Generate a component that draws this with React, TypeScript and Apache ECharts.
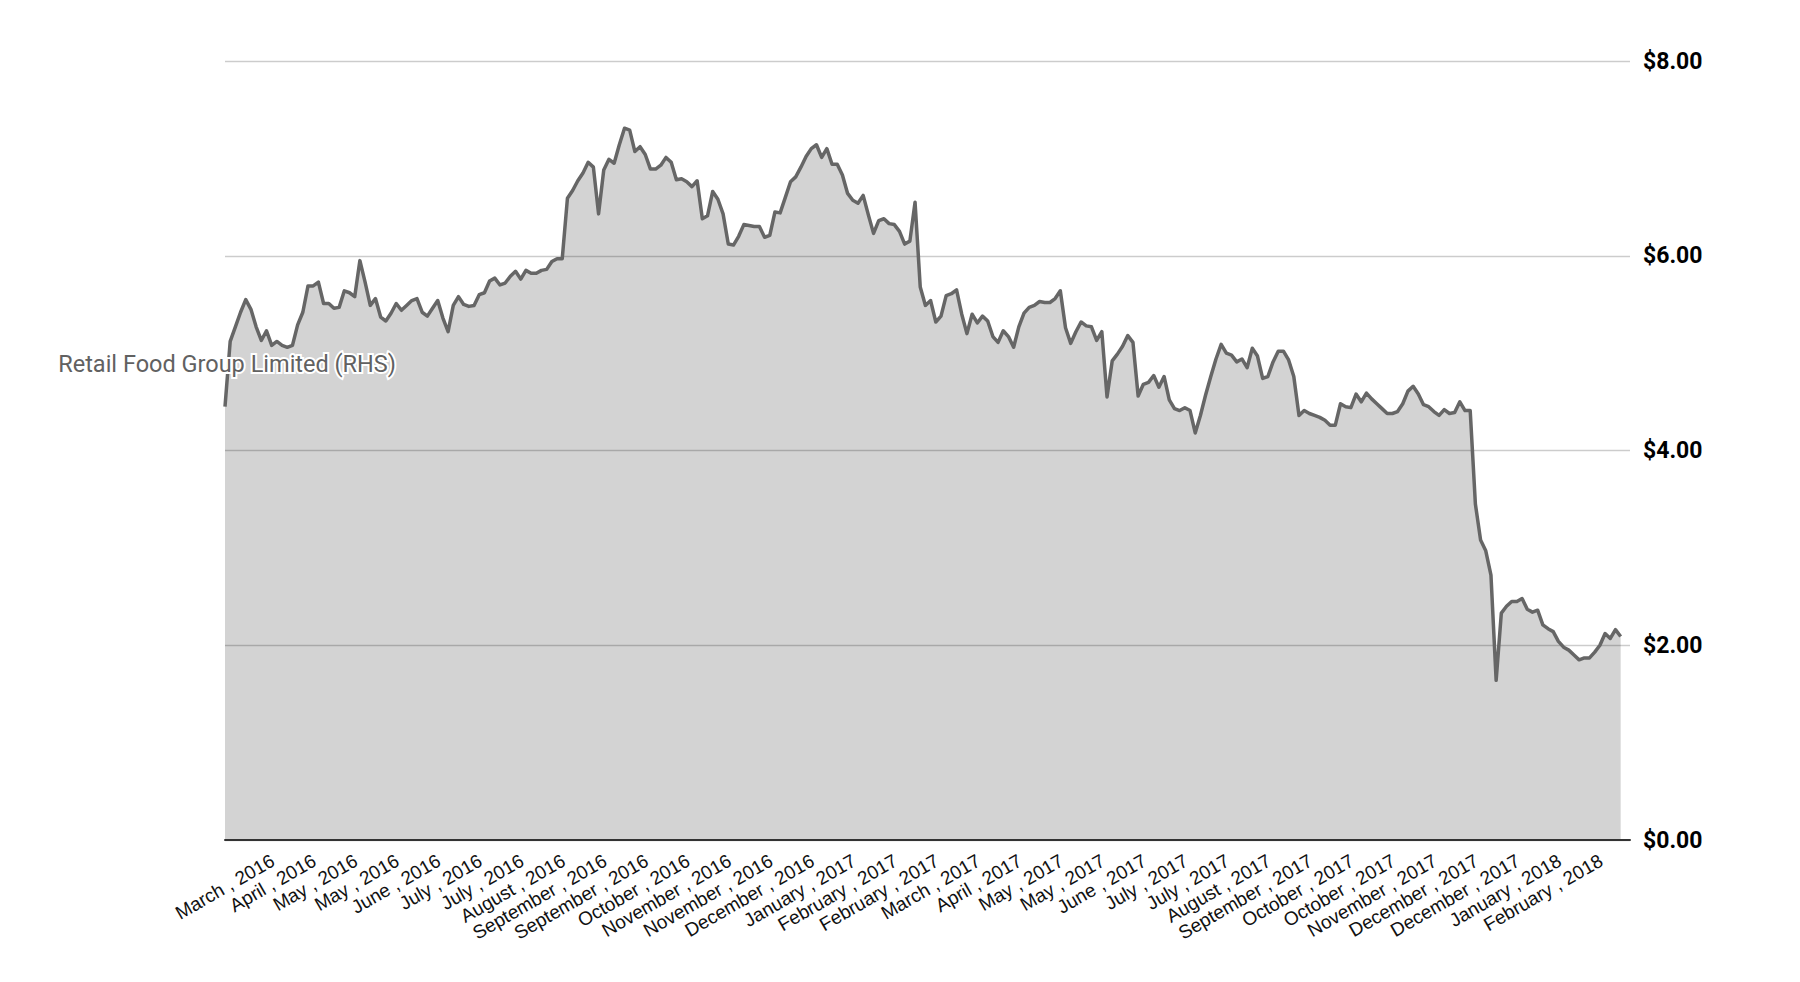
import React, { useEffect, useRef } from "react";
import * as echarts from "echarts";

// Share price (A$), evenly spaced samples from early March 2016 to late February 2018
const prices: number[] = [
  4.45, 5.12, 5.27, 5.42, 5.55, 5.45, 5.27, 5.13, 5.23, 5.08,
  5.12, 5.08, 5.06, 5.08, 5.29, 5.42, 5.69, 5.69, 5.73, 5.51,
  5.51, 5.46, 5.47, 5.64, 5.62, 5.58, 5.95, 5.73, 5.49, 5.56,
  5.37, 5.33, 5.41, 5.51, 5.44, 5.49, 5.54, 5.56, 5.42, 5.38,
  5.46, 5.54, 5.36, 5.22, 5.49, 5.58, 5.50, 5.48, 5.49, 5.60,
  5.62, 5.74, 5.77, 5.70, 5.72, 5.79, 5.84, 5.76, 5.85, 5.82,
  5.82, 5.85, 5.86, 5.94, 5.97, 5.97, 6.59, 6.67, 6.77, 6.85,
  6.96, 6.91, 6.43, 6.88, 6.99, 6.95, 7.14, 7.31, 7.29, 7.07,
  7.12, 7.04, 6.89, 6.89, 6.93, 7.01, 6.96, 6.78, 6.79, 6.76,
  6.71, 6.77, 6.38, 6.41, 6.66, 6.58, 6.43, 6.12, 6.11, 6.20,
  6.32, 6.31, 6.30, 6.30, 6.19, 6.21, 6.45, 6.44, 6.60, 6.76,
  6.81, 6.91, 7.02, 7.10, 7.14, 7.01, 7.10, 6.94, 6.94, 6.83,
  6.64, 6.57, 6.54, 6.62, 6.42, 6.23, 6.36, 6.38, 6.33, 6.32,
  6.25, 6.12, 6.15, 6.55, 5.68, 5.49, 5.54, 5.32, 5.38, 5.59,
  5.61, 5.65, 5.40, 5.20, 5.40, 5.31, 5.38, 5.33, 5.17, 5.11,
  5.23, 5.17, 5.06, 5.27, 5.41, 5.47, 5.49, 5.53, 5.52, 5.52,
  5.56, 5.64, 5.26, 5.10, 5.22, 5.32, 5.28, 5.27, 5.13, 5.22,
  4.55, 4.92, 4.99, 5.07, 5.18, 5.11, 4.56, 4.68, 4.70, 4.77,
  4.65, 4.76, 4.52, 4.43, 4.41, 4.44, 4.41, 4.18, 4.36, 4.57,
  4.76, 4.94, 5.09, 5.00, 4.98, 4.91, 4.94, 4.85, 5.05, 4.97,
  4.74, 4.76, 4.91, 5.02, 5.02, 4.93, 4.76, 4.36, 4.41, 4.38,
  4.36, 4.34, 4.31, 4.26, 4.26, 4.48, 4.45, 4.44, 4.58, 4.50,
  4.59, 4.53, 4.48, 4.43, 4.38, 4.38, 4.40, 4.48, 4.61, 4.66,
  4.58, 4.47, 4.45, 4.40, 4.36, 4.42, 4.38, 4.39, 4.50, 4.41,
  4.41, 3.45, 3.08, 2.97, 2.72, 1.64, 2.33, 2.40, 2.45, 2.45,
  2.48, 2.37, 2.34, 2.36, 2.21, 2.17, 2.14, 2.04, 1.98, 1.95,
  1.90, 1.85, 1.87, 1.87, 1.93, 2.00, 2.12, 2.07, 2.16, 2.09,
];

const tickLabels: string[] = [
  "March , 2016", "April , 2016", "May , 2016", "May , 2016", "June , 2016",
  "July , 2016", "July , 2016", "August , 2016", "September , 2016", "September , 2016",
  "October , 2016", "November , 2016", "November , 2016", "December , 2016", "January , 2017",
  "February , 2017", "February , 2017", "March , 2017", "April , 2017", "May , 2017",
  "May , 2017", "June , 2017", "July , 2017", "July , 2017", "August , 2017",
  "September , 2017", "October , 2017", "October , 2017", "November , 2017", "December , 2017",
  "December , 2017", "January , 2018", "February , 2018",
];

const seriesName = "Retail Food Group Limited (RHS)";
const firstLabelIndex = 9.25;
const labelStep = 8;
const yMin = 0;
const yMax = 8;
const yStep = 2;

export default function App() {
  const ref = useRef<HTMLDivElement>(null);

  useEffect(() => {
    if (!ref.current) return;
    const chart = echarts.init(ref.current, null, { renderer: "svg" });
    const points = prices.map((v, i) => [i, v]);
    const labelPositions = tickLabels.map((_, k) => firstLabelIndex + k * labelStep);

    chart.setOption({
      animation: false,
      grid: { left: 225, right: 170, top: 61, bottom: 142, containLabel: false },
      xAxis: {
        type: "value",
        min: 0,
        max: 270.8,
        z: 1,
        axisLine: { show: true, onZero: false, lineStyle: { color: "#333333", width: 2 } },
        axisTick: { show: false },
        splitLine: { show: false },
        axisLabel: {
          customValues: labelPositions,
          rotate: 30,
          margin: 19,
          fontSize: 19,
          fontFamily: "'Liberation Sans', Arial, sans-serif",
          color: "#111111",
          formatter: (v: number) => {
            const k = Math.round((v - firstLabelIndex) / labelStep);
            return tickLabels[k] ?? "";
          },
        },
      },
      yAxis: {
        type: "value",
        position: "right",
        min: yMin,
        max: yMax,
        interval: yStep,
        z: 1,
        axisLine: { show: false },
        axisTick: { show: false },
        splitLine: { show: true, lineStyle: { color: "rgba(0,0,0,0.2)", width: 1.3 } },
        axisLabel: {
          margin: 13,
          fontSize: 23,
          fontWeight: "bold",
          fontFamily: "Roboto, sans-serif",
          color: "#000000",
          formatter: (v: number) => "$" + v.toFixed(2),
        },
      },
      series: [
        {
          name: seriesName + " area",
          type: "line",
          data: points,
          symbol: "none",
          z: 0,
          lineStyle: { width: 0, opacity: 0 },
          areaStyle: { color: "#d3d3d3", opacity: 1 },
          silent: true,
        },
        {
          name: seriesName,
          type: "line",
          data: points,
          symbol: "none",
          z: 2,
          lineStyle: { width: 3.5, color: "#666666", join: "round" },
        },
      ],
      graphic: [
        {
          type: "text",
          x: 396,
          y: 364,
          z: 100,
          style: {
            text: seriesName,
            align: "right",
            verticalAlign: "middle",
            font: "23.5px Roboto, sans-serif",
            fill: "#616161",
            stroke: "#ffffff",
            lineWidth: 4,
          },
        },
      ],
    });

    return () => chart.dispose();
  }, []);

  return (
    <div
      ref={ref}
      style={{ position: "fixed", left: 0, top: 0, width: 1800, height: 982, background: "#ffffff" }}
    />
  );
}
